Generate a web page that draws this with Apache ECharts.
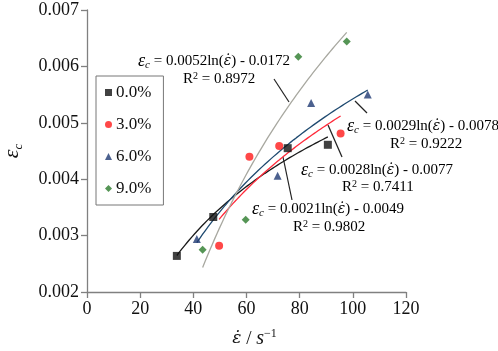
<!DOCTYPE html>
<html>
<head>
<meta charset="utf-8">
<script src="https://cdn.jsdelivr.net/npm/echarts@6/dist/echarts.min.js"></script>
<style>
html,body{margin:0;padding:0;background:#fff;}
#chart{width:498px;height:351px;}
</style>
</head>
<body>
<div id="chart"></div>
<script>
var groupNames = ['0.0%', '3.0%', '6.0%', '9.0%'];
// strain rate (1/s) for each group
var rate00 = [33.8, 47.5, 75.5, 90.6];
var rate30 = [49.7, 61.1, 72.3, 95.4];
var rate60 = [41.3, 71.7, 84.3, 105.6];
var rate90 = [43.5, 59.7, 79.5, 97.7];
// critical strain
var eps00 = [0.00264, 0.00333, 0.00455, 0.00461];
var eps30 = [0.00282, 0.00440, 0.00459, 0.00481];
var eps60 = [0.00294, 0.00406, 0.00535, 0.00550];
var eps90 = [0.00275, 0.00328, 0.00617, 0.00644];
var xTicks = [0, 20, 40, 60, 80, 100, 120];
var yTicks = [0.002, 0.003, 0.004, 0.005, 0.006, 0.007];
var fitTexts = [
	['0.0021', '0.0049', '0.9802'],
	['0.0028', '0.0077', '0.7411'],
	['0.0029', '0.0078', '0.9222'],
	['0.0052', '0.0172', '0.8972']
];

var colors = ['#111111', '#ff1a1a', '#1f3a73', '#2a7a2a'];
var lineColors = ['#1a1a1a', '#ff2a3a', '#1f4a70', '#a8a8a0'];
var symbols = ['rect', 'circle', 'triangle', 'diamond'];
var symbolSizes = [8, 8, 8, 8];
var rates = [rate00, rate30, rate60, rate90];
var epss = [eps00, eps30, eps60, eps90];

// log trend line y = a*ln(x) + b, least squares on the points
function logFit(xs, ys) {
	var n = xs.length, sl = 0, sy = 0, sll = 0, sly = 0;
	for (var i = 0; i < n; i++) {
		var l = Math.log(xs[i]);
		sl += l; sy += ys[i]; sll += l * l; sly += l * ys[i];
	}
	var a = (n * sly - sl * sy) / (n * sll - sl * sl);
	var b = (sy - a * sl) / n;
	var x0 = Math.min.apply(null, xs), x1 = Math.max.apply(null, xs);
	var pts = [];
	for (var k = 0; k <= 60; k++) {
		var x = x0 + (x1 - x0) * k / 60;
		pts.push([x, a * Math.log(x) + b]);
	}
	return pts;
}

var series = [];
for (var i = 0; i < 4; i++) {
	series.push({
		name: 'fit' + i,
		type: 'line',
		data: logFit(rates[i], epss[i]),
		showSymbol: false,
		lineStyle: {color: lineColors[i], width: 1.3},
		z: 2,
		silent: true
	});
}
for (var i = 0; i < 4; i++) {
	var d = [];
	for (var j = 0; j < rates[i].length; j++) d.push([rates[i][j], epss[i][j]]);
	series.push({
		name: groupNames[i],
		type: 'scatter',
		data: d,
		symbol: symbols[i],
		symbolSize: symbolSizes[i],
		itemStyle: {color: colors[i]},
		z: 5
	});
}

var serif = '"Liberation Serif", "Times New Roman", serif';
var dotFont = '"DejaVu Serif", serif';
var eqRich = {
	e: {fontFamily: serif, fontStyle: 'italic', fontSize: 18, color: '#111'},
	d: {fontFamily: dotFont, fontStyle: 'italic', fontSize: 14, color: '#111'},
	s: {fontFamily: serif, fontStyle: 'italic', fontSize: 11, color: '#111', padding: [9, 0, 0, 0]},
	t: {fontFamily: serif, fontSize: 15, color: '#111'},
	sup: {fontFamily: serif, fontSize: 10, color: '#111', padding: [0, 0, 7, 0]}
};
function eqText(k) {
	return '{e|ε}{s|c}{t| = ' + fitTexts[k][0] + 'ln(}{d|ε̇}{t|) - ' + fitTexts[k][1] + '}';
}
function r2Text(k) {
	return '{t|R}{sup|2}{t| = ' + fitTexts[k][2] + '}';
}
function label(k, x, y, rx, ry) {
	return [
		{type: 'text', left: x, top: y, style: {text: eqText(k), rich: eqRich}},
		{type: 'text', left: rx, top: ry, style: {text: r2Text(k), rich: eqRich}}
	];
}
function leader(x1, y1, x2, y2) {
	return {type: 'line', shape: {x1: x1, y1: y1, x2: x2, y2: y2}, style: {stroke: '#222', lineWidth: 1.2}};
}

var graphics = [].concat(
	label(3, 138, 52, 183, 71),
	label(2, 347, 117, 390, 136),
	label(1, 301, 161, 342, 179),
	label(0, 252, 200, 293, 219),
	[
		leader(274, 79, 289, 102),
		leader(355, 101, 367, 113),
		leader(328, 125, 342, 157),
		leader(283, 157, 292, 200)
	]
);

var chart = echarts.init(document.getElementById('chart'));
var option = {
	animation: false,
	backgroundColor: '#fff',
	textStyle: {fontFamily: serif},
	grid: {left: 87, right: 92, top: 10, bottom: 59, outerBoundsMode: 'none'},
	legend: {
		data: groupNames.map(function (n, i) { return {name: n, icon: symbols[i]}; }),
		orient: 'vertical',
		left: 96,
		top: 76,
		width: 63,
		padding: [8, 12, 8, 9],
		itemGap: 15,
		itemWidth: 7,
		itemHeight: 7,
		borderColor: '#777',
		borderWidth: 1,
		textStyle: {fontFamily: serif, fontSize: 17, color: '#111', padding: [0, 0, 0, -1]}
	},
	xAxis: {
		type: 'value',
		min: xTicks[0],
		max: xTicks[xTicks.length - 1],
		interval: 20,
		name: '{d|ε̇}{n| / }{e|s}{sup|−1}',
		nameLocation: 'middle',
		nameGap: 36,
		nameTextStyle: {
			padding: [0, 0, 0, 16],
			rich: {
				d: {fontFamily: dotFont, fontStyle: 'italic', fontSize: 17, color: '#111'},
				e: {fontFamily: serif, fontStyle: 'italic', fontSize: 20, color: '#111'},
				n: {fontFamily: serif, fontSize: 19, color: '#111'},
				sup: {fontFamily: serif, fontSize: 12, color: '#111', padding: [0, 0, 10, 0]}
			}
		},
		axisLine: {lineStyle: {color: '#808080', width: 1.3}},
		axisTick: {length: 6, lineStyle: {color: '#808080', width: 1.3}},
		axisLabel: {fontFamily: serif, fontSize: 18, color: '#111', margin: 8},
		splitLine: {show: false}
	},
	yAxis: {
		type: 'value',
		min: yTicks[0],
		max: yTicks[yTicks.length - 1],
		interval: 0.001,
		name: '{e|ε}{s|c}',
		nameLocation: 'middle',
		nameRotate: 90,
		nameGap: 62,
		nameTextStyle: {
			rich: {
				e: {fontFamily: serif, fontStyle: 'italic', fontSize: 22, color: '#111'},
				s: {fontFamily: serif, fontStyle: 'italic', fontSize: 13, color: '#111', padding: [12, 0, 0, 0]}
			}
		},
		axisLine: {lineStyle: {color: '#808080', width: 1.3}},
		axisTick: {length: 6, lineStyle: {color: '#808080', width: 1.3}},
		axisLabel: {
			fontFamily: serif, fontSize: 18, color: '#111', margin: 8,
			formatter: function (v) { return v.toFixed(3); }
		},
		splitLine: {show: false}
	},
	series: series,
	graphic: graphics
};
chart.setOption(option);
</script>
</body>
</html>
